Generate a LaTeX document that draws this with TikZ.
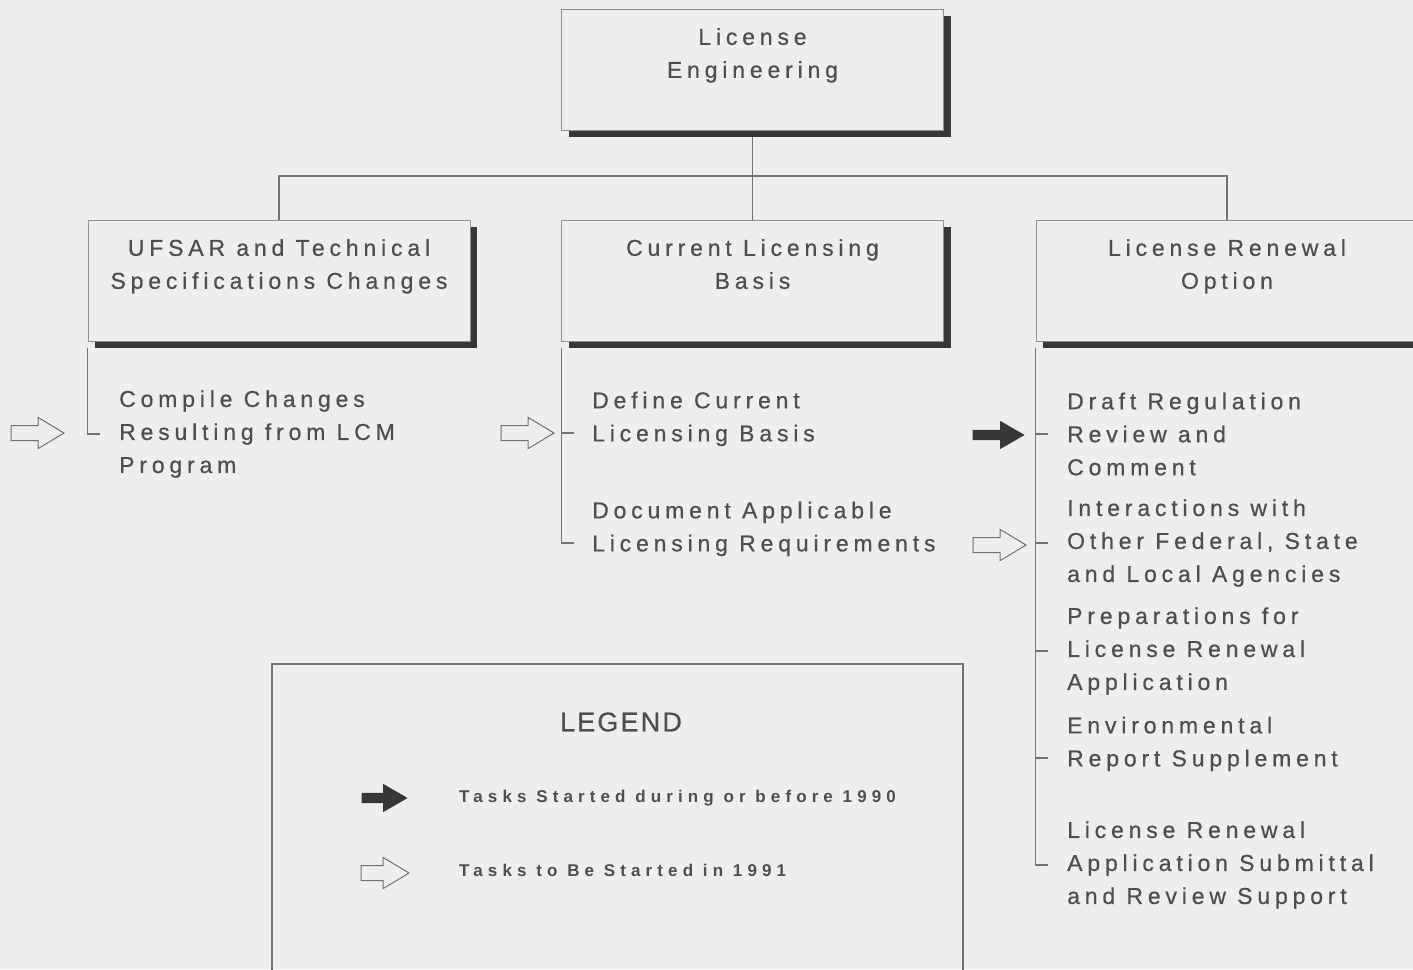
\documentclass[tikz,border=0pt]{standalone}
\usepackage{fontspec}
\setmainfont{Liberation Sans}[LetterSpace=21, FakeBold=0.6]
\newfontfamily\legendfont{Liberation Sans}[LetterSpace=30]
\usetikzlibrary{positioning, shapes.arrows, shadows}
\usepackage{xcolor}
\definecolor{papercolor}{RGB}{238,238,238}
\definecolor{inkcolor}{RGB}{78,78,78}
\definecolor{rulecolor}{RGB}{115,115,115}
\definecolor{shadowcolor}{RGB}{55,55,55}

\begin{document}
\begin{tikzpicture}[x=1pt, y=-1pt]
  \tikzset{
    box/.style={
      draw=rulecolor!80,
      fill=papercolor,
      minimum width=382pt,
      minimum height=121pt,
      align=center,
      text=inkcolor,
      font=\fontsize{23}{33}\selectfont,
      drop shadow={shadow xshift=7pt, shadow yshift=-7pt, fill=shadowcolor, opacity=1},
      anchor=center
    },
    task/.style={
      anchor=west,
      align=left,
      inner sep=0pt,
      text=inkcolor,
      font=\fontsize{23}{33}\selectfont
    },
    link/.style={draw=rulecolor, line width=1.2pt},
    todo/.style={
      single arrow,
      draw=inkcolor!80,
      fill=papercolor,
      line width=1pt,
      inner sep=0pt,
      text height=7pt,
      text depth=7pt,
      minimum height=53pt,
      single arrow head extend=8pt,
      single arrow tip angle=62,
      anchor=tip
    },
    started/.style={
      single arrow,
      fill=shadowcolor,
      inner sep=0pt,
      text height=5pt,
      text depth=5pt,
      minimum height=52pt,
      single arrow head extend=9pt,
      single arrow tip angle=60,
      anchor=tip
    }
  }

  \useasboundingbox (0,0) rectangle (1413,969);
  \clip (0,0) rectangle (1413,969);
  \fill[papercolor] (0,0) rectangle (1413,969);

  % Top box
  \node[box] (eng) at (752.5, 69.5) {License\\Engineering\\\mbox{}};

  % Second row
  \node[box] (ufsar) at (279, 280.5) {UFSAR and Technical\\Specifications Changes\\\mbox{}};
  \node[box] (clb) at (752.5, 280.5) {Current Licensing\\Basis\\\mbox{}};
  \node[box] (renew) at (1227, 280.5) {License Renewal\\Option\\\mbox{}};

  % Tree lines
  \coordinate (bus) at (752.5, 176);
  \draw[link] (eng.south) ++(0,7) -- (clb.north);
  \draw[link] (ufsar.north) |- (bus) -| (renew.north);

  % Tasks under UFSAR
  \node[task] (compile) at (119, 434) {Compile Changes\\Resulting from LCM\\Program};
  \draw[link] (ufsar.south west) ++(0,7) |- ([xshift=-19pt]compile.west);
  \node[todo] (a1) at (65, 433) {};

  % Tasks under current licensing basis
  \node[task] (define) at (592, 433) {Define Current\\Licensing Basis\\\mbox{}};
  \node[task] (document) at (592, 543) {Document Applicable\\Licensing Requirements\\\mbox{}};
  \draw[link] (clb.south west) ++(0,7) |- ([xshift=-18pt]document.west);
  \draw[link] (clb.south west |- define.west) -- ([xshift=-18pt]define.west);
  \node[todo] (a2) at (555, 433) {};

  % Tasks under license renewal
  \node[task] (draft) at (1067, 434) {Draft Regulation\\Review and\\Comment};
  \node[task] (agencies) at (1067, 543) {Interactions with\\Other Federal, State\\and Local Agencies};
  \node[task] (prep) at (1067, 651) {Preparations for\\License Renewal\\Application};
  \node[task] (envrep) at (1067, 758) {Environmental\\Report Supplement\\\mbox{}};
  \node[task] (submit) at (1067, 865) {License Renewal\\Application Submittal\\and Review Support};
  \draw[link] (renew.south west) ++(0,7) |- ([xshift=-19pt]submit.west);
  \foreach \t in {draft, agencies, prep, envrep}
    \draw[link] (renew.south west |- \t.west) -- ([xshift=-19pt]\t.west);
  \node[started] (a3) at (1025, 435) {};
  \node[todo] (a4) at (1027, 545) {};

  % Legend
  \node[draw=rulecolor, line width=1.5pt, minimum width=691pt, minimum height=340pt] (legend) at (617.5, 834) {};
  \node[text=inkcolor, font=\fontsize{27}{30}\selectfont\addfontfeature{LetterSpace=8}] (legtitle) at (621, 722) {LEGEND};
  \node[started, minimum height=46pt] (keyfull) at (408, 798) {};
  \node[task, font=\legendfont\bfseries\fontsize{17}{20}\selectfont] (keyfulltxt) at (459, 798) {Tasks Started during or before 1990};
  \node[todo, minimum height=48pt] (keyopen) at (410, 873) {};
  \node[task, font=\legendfont\bfseries\fontsize{17}{20}\selectfont] (keyopentxt) at (459, 870) {Tasks to Be Started in 1991};
\end{tikzpicture}
\end{document}
